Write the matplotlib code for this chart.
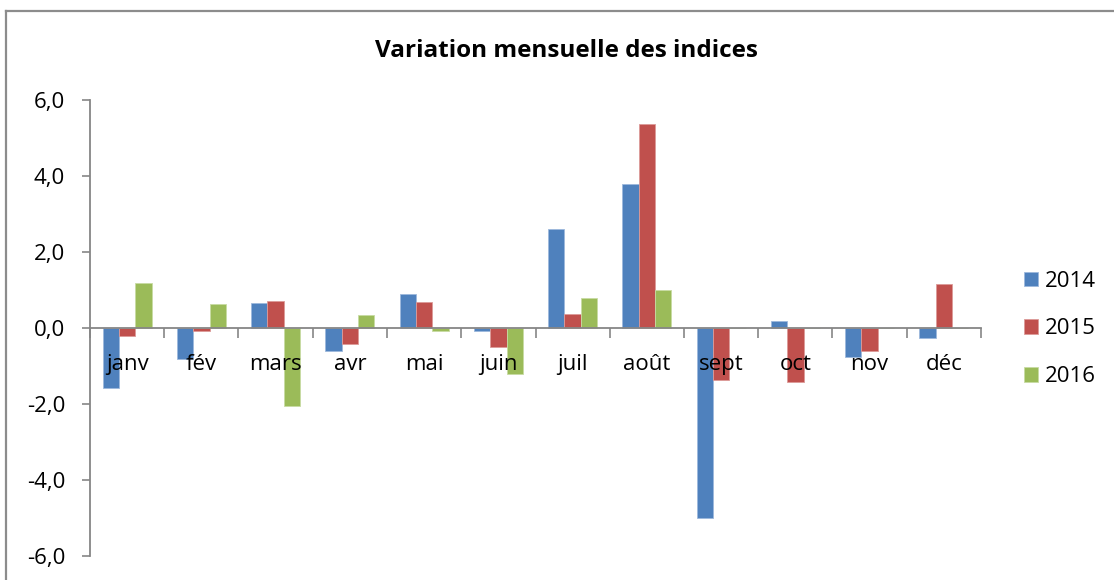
import numpy as np
import matplotlib
matplotlib.use("Agg")
import matplotlib.pyplot as plt
from matplotlib.lines import Line2D

plt.rcParams['font.family'] = ['Open Sans', 'DejaVu Sans']

months = ['janv', 'fév', 'mars', 'avr', 'mai', 'juin',
          'juil', 'août', 'sept', 'oct', 'nov', 'déc']
v2014 = [-1.58, -0.81, 0.67, -0.61, 0.89, -0.08, 2.60, 3.80, -5.00, 0.19, -0.75, -0.26]
v2015 = [-0.21, -0.09, 0.70, -0.42, 0.69, -0.49, 0.36, 5.37, -1.38, -1.41, -0.61, 1.17]
v2016 = [1.18, 0.64, -2.06, 0.34, -0.08, -1.22, 0.78, 0.99, 0, 0, 0, 0]
series_names = ['2014', '2015', '2016']
yticks = [-6, -4, -2, 0, 2, 4, 6]
ytick_labels = ['-6,0', '-4,0', '-2,0', '0,0', '2,0', '4,0', '6,0']

colors = ['#4F81BD', '#C0504D', '#9BBB59']
edges = ['#9DB9DC', '#DC9A98', '#C8DBA3']
axis_grey = '#868686'

W, H = 1114, 580
fig = plt.figure(figsize=(W / 100, H / 100), dpi=100)
ax = fig.add_axes([90 / W, 1 - 556 / H, (981 - 90) / W, (556 - 100) / H])

x = np.arange(len(months))
bw = 0.22
handles = []
for k, vals in enumerate([v2014, v2015, v2016]):
    b = ax.bar(x + (k - 1) * bw, vals, width=bw, color=colors[k],
               edgecolor=edges[k], linewidth=0.6, label=series_names[k], zorder=2)
    handles.append(b)

# axis (and month labels) drawn over the bars, as in the original
ax.set_axisbelow(False)

ax.set_xlim(-0.5, len(months) - 0.5)
ax.set_ylim(-6, 6)
ax.set_yticks(yticks)
ax.set_yticklabels(ytick_labels)

ax.set_xticks(x)
ax.set_xticklabels(months)
ax.set_xticks(np.arange(-0.5, len(months)), minor=True)
ax.tick_params(axis='x', which='major', length=0, pad=19, labelsize=16)
ax.tick_params(axis='x', which='minor', length=7, width=1.2, color=axis_grey, direction='out')
ax.tick_params(axis='y', length=6, width=1.2, color=axis_grey, direction='out',
               labelsize=16, pad=12)

for s in ['top', 'right']:
    ax.spines[s].set_visible(False)
ax.spines['bottom'].set_position(('data', 0))
for s in ['left', 'bottom']:
    ax.spines[s].set_color(axis_grey)
    ax.spines[s].set_linewidth(1.3)

fig.text(566 / W, 1 - 51 / H, 'Variation mensuelle des indices',
         ha='center', va='center', fontsize=17.5, fontweight='bold')

fig.legend(handles=handles, labels=series_names, loc='center left',
           bbox_to_anchor=(1004 / W, 1 - 329 / H), frameon=False,
           fontsize=16, handlelength=0.62, handleheight=0.62,
           handletextpad=0.3, labelspacing=1.2)

# outer chart border
fig.add_artist(Line2D([6 / W, 1], [1 - 11 / H, 1 - 11 / H], color='#8C8C8C', lw=1.6))
fig.add_artist(Line2D([6 / W, 6 / W], [0, 1 - 11 / H], color='#8C8C8C', lw=1.6))

fig.savefig('out.png', dpi=100)
